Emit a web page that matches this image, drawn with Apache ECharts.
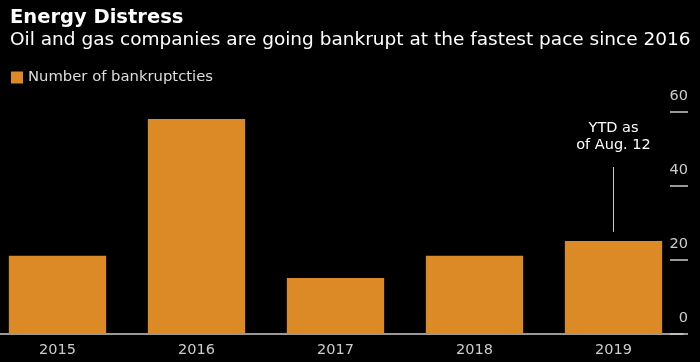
<!DOCTYPE html>
<html><head><meta charset="utf-8">
<script src="https://cdn.jsdelivr.net/npm/echarts@6/dist/echarts.min.js"></script>
<style>html,body{margin:0;padding:0;background:#000;}#c{width:700px;height:362px;}</style>
</head><body><div id="c"></div>
<script>
const categories = ['2015', '2016', '2017', '2018', '2019'];
const bankruptcies = [21, 58, 15, 21, 25];
const yTicks = [0, 20, 40, 60];
const annotationText = 'YTD as\nof Aug. 12';
const annotationRange = [27.5, 45];

const FONT = 'DejaVu Sans';
const chart = echarts.init(document.getElementById('c'), null, {renderer: 'canvas'});
chart.setOption({
  backgroundColor: '#000',
  animation: false,
  title: {
    text: 'Energy Distress',
    subtext: 'Oil and gas companies are going bankrupt at the fastest pace since 2016',
    left: 5, top: 3, itemGap: 3,
    textStyle: {color: '#fff', fontSize: 19.5, fontWeight: 'bold', fontFamily: FONT},
    subtextStyle: {color: '#fff', fontSize: 18.5, fontFamily: FONT}
  },
  legend: {
    left: 6, top: 65, icon: 'rect', itemWidth: 12, itemHeight: 12, itemGap: 5,
    textStyle: {color: '#ddd', fontSize: 14.8, fontFamily: FONT},
    data: ['Number of bankruptcties']
  },
  grid: {left: -12, right: 17, top: 111.5, bottom: 28.5, containLabel: false, outerBoundsMode: 'none'},
  xAxis: {
    type: 'category', data: categories,
    axisLine: {lineStyle: {color: '#ccc', width: 1.5}},
    axisTick: {show: false},
    axisLabel: {color: '#ccc', fontSize: 14.5, fontFamily: FONT, margin: 9}
  },
  yAxis: {
    type: 'value', position: 'right', offset: 5, min: 0, max: 60, interval: 20,
    axisLine: {show: false},
    axisTick: {show: true, inside: true, length: 18, lineStyle: {color: '#ccc', width: 1.5}},
    splitLine: {show: false},
    axisLabel: {inside: true, color: '#ccc', fontSize: 14.5, fontFamily: FONT, margin: 0,
      align: 'right', verticalAlign: 'bottom', padding: [0, 0, 8, 0],
      formatter: v => yTicks.includes(v) ? String(v) : ''}
  },
  series: [{
    name: 'Number of bankruptcties', type: 'bar', data: bankruptcies,
    barCategoryGap: '30%',
    itemStyle: {color: '#dc8a26'},
    markLine: {
      silent: true, symbol: 'none',
      lineStyle: {color: '#ccc', type: 'solid', width: 1},
      label: {show: true, position: 'end', formatter: annotationText, color: '#fff',
        fontSize: 14.5, fontFamily: FONT, lineHeight: 17, distance: 13},
      data: [[{coord: [categories[4], annotationRange[0]]}, {coord: [categories[4], annotationRange[1]]}]]
    }
  }]
});
</script></body></html>
